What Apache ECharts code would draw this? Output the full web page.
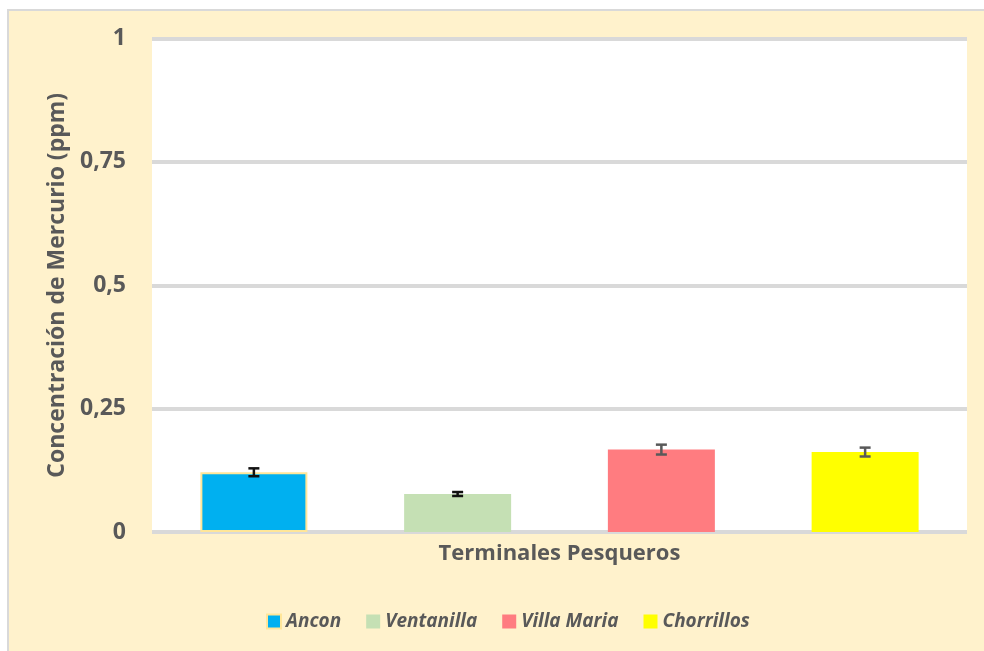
<!DOCTYPE html>
<html>
<head>
<meta charset="utf-8">
<script src="https://cdn.jsdelivr.net/npm/echarts@6/dist/echarts.min.js"></script>
<style>
  html, body { margin: 0; padding: 0; background: #fff; }
  #frame {
    position: absolute; left: 7px; top: 9px; right: 0; bottom: 0;
    background: #FFF2CC;
    border-top: 2px solid #d9d9d9;
    border-left: 2px solid #d9d9d9;
  }
  #chart { position: absolute; left: 0; top: 0; width: 984px; height: 651px; }
</style>
</head>
<body>
<div id="frame"></div>
<div id="chart"></div>
<script>
// data
var terminales = ['Ancon', 'Ventanilla', 'Villa Maria', 'Chorrillos']
var mercurio = [0.121, 0.077, 0.167, 0.162]
var errores = [0.008, 0.004, 0.010, 0.009]
var colores = ['#00B0F0', '#C5E0B4', '#FF7C80', '#FFFF00']
var coloresError = ['#111111', '#111111', '#595959', '#595959']
var yTicks = [0, 0.25, 0.5, 0.75, 1]

var textColor = '#595959'
var fontFam = '"Open Sans", sans-serif'

var chart = echarts.init(document.getElementById('chart'), null, { renderer: 'canvas' })

// one bar series per terminal, so each gets its own legend entry
var barSeries = terminales.map(function (name, i) {
  return {
    name: name,
    type: 'bar',
    barWidth: 107,
    barGap: '-100%',
    data: terminales.map(function (t, j) { return j === i ? mercurio[i] : '-' }),
    itemStyle: i === 0
      ? { color: colores[i], borderColor: '#FFE699', borderWidth: 2 }
      : { color: colores[i] },
    emphasis: { disabled: true },
    z: 2
  }
})

var errorData = mercurio.map(function (v, i) {
  return [i, v - errores[i], v + errores[i]]
})

chart.setOption({
  backgroundColor: 'transparent',
  animation: false,
  textStyle: { fontFamily: fontFam },
  grid: {
    left: 152,
    right: 17,
    top: 38.5,
    bottom: 119,
    show: true,
    backgroundColor: '#ffffff',
    borderWidth: 0
  },
  legend: {
    data: terminales,
    top: 607,
    left: 261,
    icon: 'rect',
    itemWidth: 14,
    itemHeight: 14,
    itemGap: 25,
    textStyle: {
      color: textColor,
      fontSize: 19,
      fontStyle: 'italic',
      fontWeight: 'bold',
      fontFamily: fontFam
    }
  },
  xAxis: {
    type: 'category',
    data: terminales,
    name: 'Terminales Pesqueros',
    nameLocation: 'middle',
    nameGap: 11,
    nameTextStyle: {
      color: textColor,
      fontSize: 22,
      fontWeight: 'bold',
      fontFamily: fontFam
    },
    axisLine: { show: false },
    axisTick: { show: false },
    axisLabel: { show: false }
  },
  yAxis: {
    type: 'value',
    min: yTicks[0],
    max: yTicks[yTicks.length - 1],
    interval: 0.25,
    name: 'Concentración de Mercurio (ppm)',
    nameLocation: 'middle',
    nameGap: 81,
    nameTextStyle: {
      color: textColor,
      fontSize: 23,
      fontWeight: 'bold',
      fontFamily: fontFam
    },
    axisLine: { show: false },
    axisTick: { show: false },
    axisLabel: {
      color: textColor,
      fontSize: 23,
      fontWeight: 'bold',
      fontFamily: fontFam,
      margin: 26,
      formatter: function (v) { return String(v).replace('.', ',') }
    },
    splitLine: { lineStyle: { color: '#d9d9d9', width: 4 } }
  },
  series: barSeries.concat([{
    name: 'error',
    type: 'custom',
    data: errorData,
    encode: { x: 0, y: [1, 2] },
    z: 5,
    renderItem: function (params, api) {
      var idx = api.value(0)
      var lo = api.coord([idx, api.value(1)])
      var hi = api.coord([idx, api.value(2)])
      var half = 5.5
      var style = { stroke: coloresError[idx], lineWidth: 2.5 }
      return {
        type: 'group',
        children: [
          { type: 'line', shape: { x1: lo[0], y1: lo[1], x2: hi[0], y2: hi[1] }, style: style },
          { type: 'line', shape: { x1: lo[0] - half, y1: lo[1], x2: lo[0] + half, y2: lo[1] }, style: style },
          { type: 'line', shape: { x1: hi[0] - half, y1: hi[1], x2: hi[0] + half, y2: hi[1] }, style: style }
        ]
      }
    }
  }])
})
</script>
</body>
</html>
